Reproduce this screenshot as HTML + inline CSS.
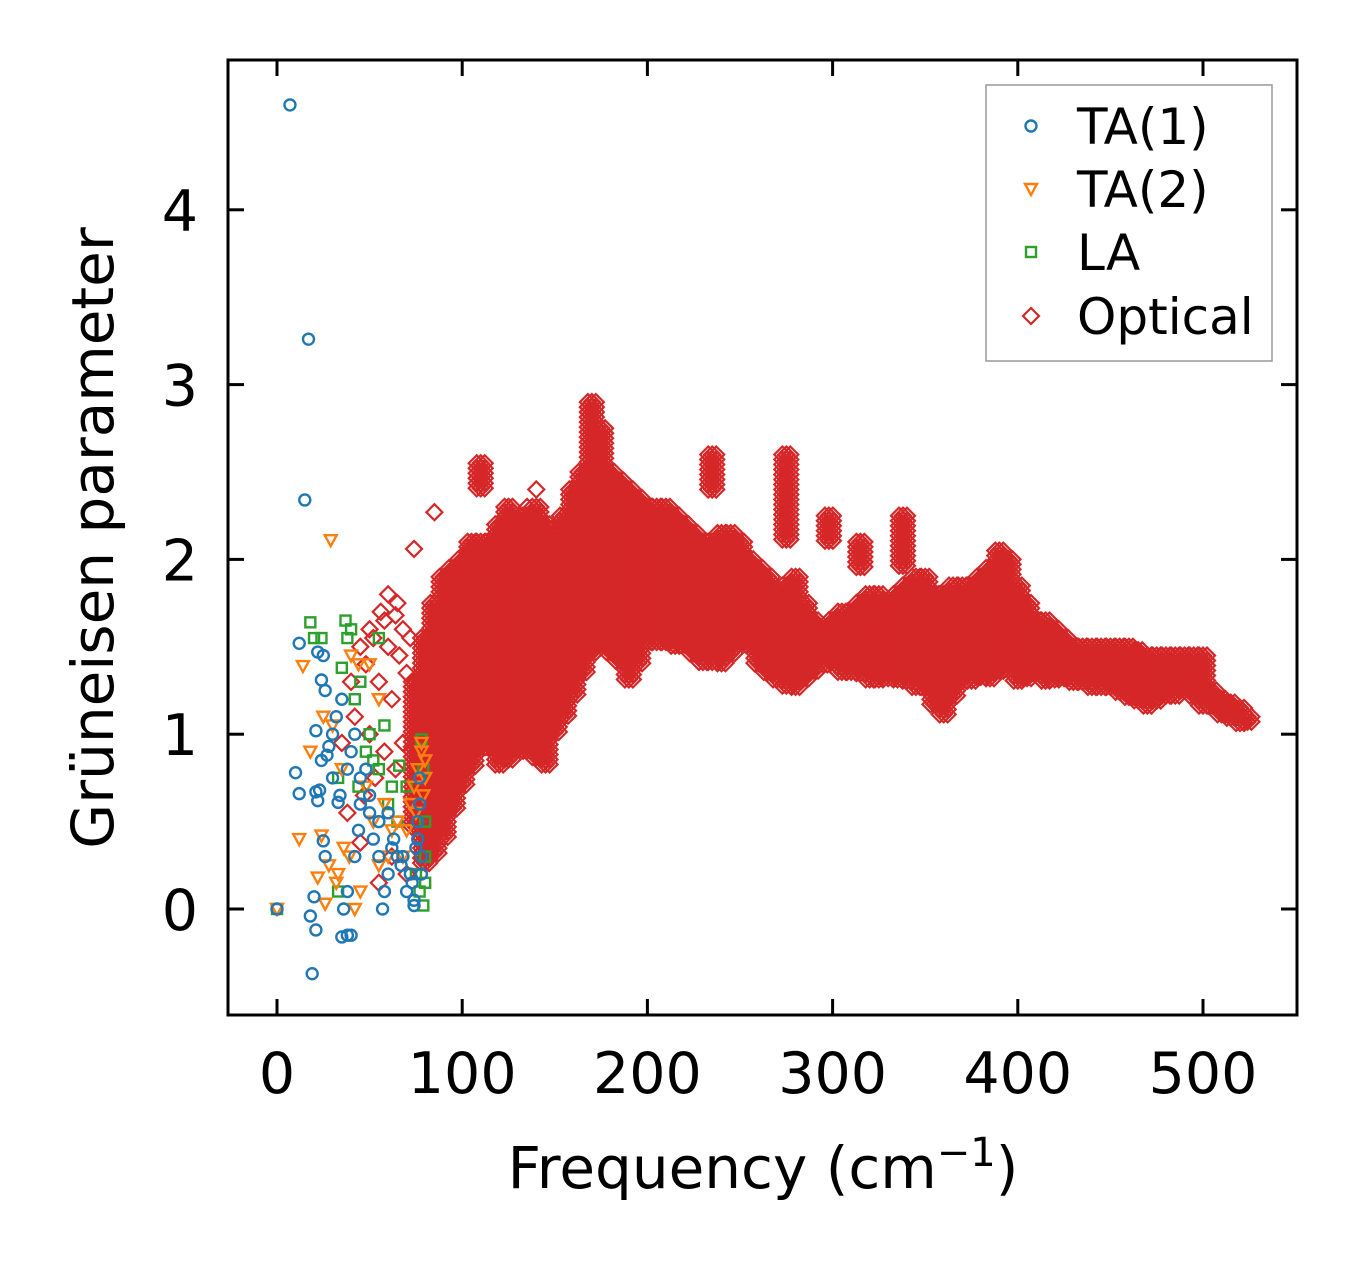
<!DOCTYPE html>
<html><head><meta charset="utf-8">
<style>
html,body{margin:0;padding:0;background:#fff;}
svg{display:block;font-family:"DejaVu Sans","Liberation Sans",sans-serif;}
</style></head>
<body>
<svg id="chart" width="1357" height="1264" viewBox="0 0 1357 1264" xmlns="http://www.w3.org/2000/svg">
<rect x="0" y="0" width="1357" height="1264" fill="#fff"/>
<defs><clipPath id="plotclip"><rect x="228" y="60" width="1069" height="955"/></clipPath></defs>
<g id="marks" clip-path="url(#plotclip)"></g>
<rect x="228" y="60" width="1069" height="955" fill="none" stroke="#000" stroke-width="3"/>
<g id="axes"></g>
<text transform="translate(113,538) rotate(-90)" text-anchor="middle" font-size="58">Grüneisen parameter</text>
<text x="763" y="1188" text-anchor="middle" font-size="58">Frequency (cm<tspan dy="-22" font-size="40">−1</tspan><tspan dy="22">)</tspan></text>
<g>
<rect x="986" y="85" width="286" height="276" fill="#fff" stroke="#999" stroke-width="1.5"/>
<g id="legendmarks"></g>
<text x="1077" y="144" font-size="50">TA(1)</text>
<text x="1077" y="207" font-size="50">TA(2)</text>
<text x="1077" y="270" font-size="50">LA</text>
<text x="1077" y="334" font-size="50">Optical</text>
</g>
</svg>
<script>
const xTicks=[0,100,200,300,400,500];
const yTicks=[0,1,2,3,4];
const ta1F=[7,17,15,12,22,25,24,26,21,28,30,32,10,12,21,23,24,27,33,22,25,26,20,18,21,19,35,38,40,36,38,42,44,45,48,50,52,55,57,58,60,62,65,67,70,72,74,75,76,76,77,77,78,78,40,42,35,38,45,50,55,60,63,68,73,74,30,34,0];
const ta1V=[4.6,3.26,2.34,1.52,1.47,1.45,1.31,1.25,1.02,0.93,1.0,1.1,0.78,0.66,0.67,0.68,0.85,0.88,0.61,0.62,0.39,0.3,0.07,-0.04,-0.12,-0.37,-0.16,-0.15,-0.15,0,0.1,0.3,0.45,0.6,0.8,0.55,0.4,0.3,0.0,0.1,0.2,0.35,0.3,0.25,0.1,0.2,0.05,0.35,0.4,0.5,0.6,0.75,0.3,0.2,0.9,1.0,1.2,0.8,0.75,0.65,0.5,0.55,0.4,0.3,0.15,0.02,0.75,0.65,0];
const ta2F=[29,14,12,24,22,28,26,33,39,42,45,18,25,30,35,40,44,50,55,48,52,58,62,65,68,70,72,74,76,78,78,80,80,79,75,60,55,36,32,0];
const ta2V=[2.11,1.39,0.4,0.42,0.18,0.25,0.03,0.2,0.3,0,0.1,0.9,1.1,1.05,0.8,1.45,1.4,1.4,1.2,0.7,0.5,0.6,0.45,0.5,0.3,0.45,0.6,0.7,0.8,0.9,0.95,0.85,0.75,0.65,0.55,0.3,0.25,0.35,0.15,0];
const laF=[0,18,20,24,37,38,40,55,35,42,45,50,48,33,44,55,60,66,70,78,79,80,80,80,79,77,75,65,62,33,58,52];
const laV=[0,1.64,1.55,1.55,1.65,1.55,1.6,1.55,1.38,1.2,1.3,1.0,0.9,0.75,0.7,0.8,0.6,0.82,0.7,0.97,0.8,0.5,0.3,0.15,0.02,0.1,0.2,0.5,0.7,0.1,1.05,0.85];
const optF=[85,74,56,60,65,50,45,40,35,38,45,62,70,55,140,135,58,64,68,52,48,60,66,55,62,70,72,42,50,58,64,68,47,53];
const optV=[2.27,2.06,1.7,1.8,1.75,1.6,1.5,1.3,0.95,0.55,0.38,0.3,0.2,0.15,2.4,2.3,1.65,1.68,1.6,1.55,1.4,1.5,1.45,1.3,1.2,1.35,1.55,1.1,1.0,0.9,0.8,0.95,0.65,0.75];
const bandF=[75,80,85,90,95,100,105,110,115,120,125,130,135,140,145,150,155,160,165,170,175,180,185,190,195,200,205,210,215,220,225,230,235,240,245,250,255,260,265,270,275,280,285,290,295,300,305,310,315,320,325,330,335,340,345,350,355,360,365,370,375,380,385,390,395,400,405,410,415,420,425,430,435,440,445,450,455,460,465,470,475,480,485,490,495,500,505,510,515,520,524];
const bandLo=[0.45,0.25,0.3,0.4,0.55,0.7,0.8,0.9,0.9,0.8,0.85,0.9,0.9,0.85,0.8,1.0,1.1,1.2,1.35,1.45,1.5,1.45,1.4,1.3,1.4,1.5,1.5,1.5,1.5,1.5,1.45,1.4,1.4,1.4,1.45,1.5,1.5,1.4,1.35,1.3,1.25,1.25,1.3,1.35,1.4,1.4,1.35,1.35,1.35,1.3,1.3,1.3,1.3,1.3,1.25,1.25,1.15,1.1,1.2,1.3,1.3,1.3,1.3,1.35,1.35,1.3,1.3,1.35,1.3,1.3,1.3,1.3,1.28,1.25,1.25,1.25,1.22,1.2,1.18,1.15,1.18,1.2,1.22,1.25,1.2,1.15,1.15,1.1,1.08,1.05,1.05];
const bandHi=[1.3,1.55,1.75,1.9,1.95,2.0,2.05,2.1,2.1,2.2,2.2,2.2,2.25,2.3,2.2,2.1,2.25,2.4,2.5,2.9,2.75,2.5,2.45,2.4,2.35,2.3,2.3,2.3,2.25,2.2,2.15,2.1,2.1,2.15,2.15,2.1,2.0,1.95,1.9,1.8,1.85,1.9,1.75,1.65,1.6,1.65,1.7,1.7,1.75,1.8,1.8,1.75,1.8,1.85,1.9,1.9,1.8,1.8,1.85,1.85,1.85,1.9,1.95,2.05,2.0,1.85,1.75,1.65,1.65,1.6,1.55,1.5,1.5,1.5,1.5,1.5,1.5,1.5,1.48,1.45,1.45,1.45,1.45,1.45,1.45,1.45,1.25,1.2,1.18,1.15,1.1];
const isleF=[110,235,275,298,315,338,105,125];
const isleLo=[2.4,2.4,2.1,2.1,1.95,1.95,1.9,1.9];
const isleHi=[2.55,2.6,2.6,2.25,2.1,2.25,2.1,2.3];

const X0=277,XS=1.852,Y0=909,YS=174.8;
const sx=f=>X0+f*XS, sy=v=>Y0-v*YS;
const NS="http://www.w3.org/2000/svg";
const marks=document.getElementById('marks');
const axes=document.getElementById('axes');
function mk(tag,attrs,parent){const e=document.createElementNS(NS,tag);for(const k in attrs)e.setAttribute(k,attrs[k]);parent.appendChild(e);return e;}
const RED='#d62728',BLUE='#1f77b4',ORANGE='#ff7f0e',GREEN='#2ca02c';
function diamond(cx,cy,parent,name){const h=8;const e=mk('polygon',{points:`${cx},${cy-h} ${cx+h},${cy} ${cx},${cy+h} ${cx-h},${cy}`,fill:'none',stroke:RED,'stroke-width':2.2},parent);

return e;}
function circle(cx,cy,parent,name){const e=mk('circle',{cx:cx,cy:cy,r:5.5,fill:'none',stroke:BLUE,'stroke-width':2.4},parent);

}
function tri(cx,cy,parent,name){const e=mk('polygon',{points:`${cx-6},${cy-5} ${cx+6},${cy-5} ${cx},${cy+6}`,fill:'none',stroke:ORANGE,'stroke-width':2.4},parent);

}
function sq(cx,cy,parent,name){const e=mk('rect',{x:cx-5,y:cy-5,width:10,height:10,fill:'none',stroke:GREEN,'stroke-width':2.4},parent);

}
const gOpt=mk('g',{},marks);


function drawBand(F,L,H){for(let i=0;i<F.length;i++){const x=sx(F[i]);const yt=sy(H[i]),yb=sy(L[i]);
 for(let y=yt;y<=yb+0.1;y+=5){for(const dx of [-4,0,4])diamond(x+dx,y,gOpt,'optical-point');}}}
drawBand(bandF,bandLo,bandHi);
drawBand(isleF,isleLo,isleHi);
for(let i=0;i<optF.length;i++)diamond(sx(optF[i]),sy(optV[i]),gOpt,'optical-point');
const gLA=mk('g',{},marks);


for(let i=0;i<laF.length;i++)sq(sx(laF[i]),sy(laV[i]),gLA,'la-point');
const gT2=mk('g',{},marks);


for(let i=0;i<ta2F.length;i++)tri(sx(ta2F[i]),sy(ta2V[i]),gT2,'ta2-point');
const gT1=mk('g',{},marks);


for(let i=0;i<ta1F.length;i++)circle(sx(ta1F[i]),sy(ta1V[i]),gT1,'ta1-point');
xTicks.forEach(t=>{const x=sx(t);
 const a=mk('line',{x1:x,y1:1015,x2:x,y2:999,stroke:'#000','stroke-width':3},axes);
 
 
 const b=mk('line',{x1:x,y1:60,x2:x,y2:76,stroke:'#000','stroke-width':3},axes);
 
 
 const l=mk('text',{x:x,y:1093,'text-anchor':'middle','font-size':57},axes);l.textContent=t;
 
 });
yTicks.forEach(t=>{const y=sy(t);
 const a=mk('line',{x1:228,y1:y,x2:244,y2:y,stroke:'#000','stroke-width':3},axes);
 
 
 const b=mk('line',{x1:1297,y1:y,x2:1281,y2:y,stroke:'#000','stroke-width':3},axes);
 
 
 const l=mk('text',{x:198,y:y+21,'text-anchor':'end','font-size':57},axes);l.textContent=t;
 
 });
const lg=document.getElementById('legendmarks');
circle(1031,126,lg,'legend-marker-ta1');
tri(1031,189,lg,'legend-marker-ta2');
sq(1031,252,lg,'legend-marker-la');
diamond(1031,316,lg,'legend-marker-optical');
</script>
</body></html>
